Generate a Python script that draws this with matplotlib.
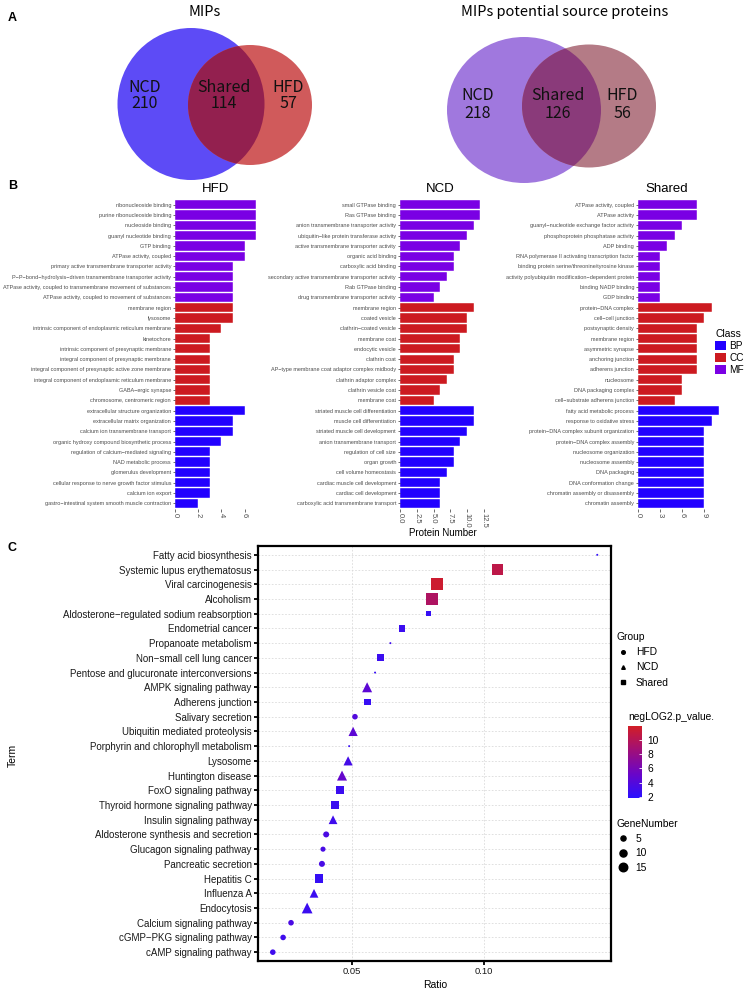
import numpy as np
import matplotlib
matplotlib.use("Agg")
import matplotlib.pyplot as plt
from matplotlib.patches import Ellipse, Patch
from matplotlib.lines import Line2D
from matplotlib.colors import LinearSegmentedColormap, Normalize
from matplotlib.cm import ScalarMappable

plt.rcParams['font.family'] = ['Liberation Sans', 'DejaVu Sans']

W, H = 747, 992

# ---- Panel A: Venn counts ----
venn_titles = ['MIPs', 'MIPs potential source proteins']
venn_labels = ['NCD', 'Shared', 'HFD']
mips_counts = [210, 114, 57]
source_counts = [218, 126, 56]

# ---- Panel B: GO terms ----
hfd_terms = ['ribonucleoside binding', 'purine ribonucleoside binding', 'nucleoside binding',
             'guanyl nucleotide binding', 'GTP binding', 'ATPase activity, coupled',
             'primary active transmembrane transporter activity',
             'P\u2212P\u2212bond\u2212hydrolysis\u2212driven transmembrane transporter activity',
             'ATPase activity, coupled to transmembrane movement of substances',
             'ATPase activity, coupled to movement of substances',
             'membrane region', 'lysosome', 'intrinsic component of endoplasmic reticulum membrane',
             'kinetochore', 'intrinsic component of presynaptic membrane',
             'integral component of presynaptic membrane',
             'integral component of presynaptic active zone membrane',
             'integral component of endoplasmic reticulum membrane', 'GABA\u2212ergic synapse',
             'chromosome, centromeric region',
             'extracellular structure organization', 'extracellular matrix organization',
             'calcium ion transmembrane transport', 'organic hydroxy compound biosynthetic process',
             'regulation of calcium\u2212mediated signaling', 'NAD metabolic process',
             'glomerulus development', 'cellular response to nerve growth factor stimulus',
             'calcium ion export', 'gastro\u2212intestinal system smooth muscle contraction']
hfd_counts = [7, 7, 7, 7, 6, 6, 5, 5, 5, 5,
              5, 5, 4, 3, 3, 3, 3, 3, 3, 3,
              6, 5, 5, 4, 3, 3, 3, 3, 3, 2]

ncd_terms = ['small GTPase binding', 'Ras GTPase binding', 'anion transmembrane transporter activity',
             'ubiquitin\u2212like protein transferase activity', 'active transmembrane transporter activity',
             'organic acid binding', 'carboxylic acid binding',
             'secondary active transmembrane transporter activity', 'Rab GTPase binding',
             'drug transmembrane transporter activity',
             'membrane region', 'coated vesicle', 'clathrin\u2212coated vesicle', 'membrane coat',
             'endocytic vesicle', 'clathrin coat', 'AP\u2212type membrane coat adaptor complex midbody',
             'clathrin adaptor complex', 'clathrin vesicle coat', 'membrane coat',
             'striated muscle cell differentiation', 'muscle cell differentiation',
             'striated muscle cell development', 'anion transmembrane transport',
             'regulation of cell size', 'organ growth', 'cell volume homeostasis',
             'cardiac muscle cell development', 'cardiac cell development',
             'carboxylic acid transmembrane transport']
ncd_counts = [12, 12, 11, 10, 9, 8, 8, 7, 6, 5,
              11, 10, 10, 9, 9, 8, 8, 7, 6, 5,
              11, 11, 10, 9, 8, 8, 7, 6, 6, 6]

shared_terms = ['ATPase activity, coupled', 'ATPase activity', 'guanyl\u2212nucleotide exchange factor activity',
                'phosphoprotein phosphatase activity', 'ADP binding',
                'RNA polymerase II activating transcription factor',
                'binding protein serine/threonine/tyrosine kinase',
                'activity polyubiquitin modification\u2212dependent protein', 'binding NADP binding',
                'GDP binding',
                'protein\u2212DNA complex', 'cell\u2212cell junction', 'postsynaptic density',
                'membrane region', 'asymmetric synapse', 'anchoring junction', 'adherens junction',
                'nucleosome', 'DNA packaging complex', 'cell\u2212substrate adherens junction',
                'fatty acid metabolic process', 'response to oxidative stress',
                'protein\u2212DNA complex subunit organization', 'protein\u2212DNA complex assembly',
                'nucleosome organization', 'nucleosome assembly', 'DNA packaging',
                'DNA conformation change', 'chromatin assembly or disassembly', 'chromatin assembly']
shared_counts = [8, 8, 6, 5, 4, 3, 3, 3, 3, 3,
                 10, 9, 8, 8, 8, 8, 8, 6, 6, 5,
                 11, 10, 9, 9, 9, 9, 9, 9, 9, 9]

go_class = ['MF'] * 10 + ['CC'] * 10 + ['BP'] * 10
class_names = ['BP', 'CC', 'MF']

# ---- Panel C: KEGG enrichment ----
kegg_terms = ['Fatty acid biosynthesis', 'Systemic lupus erythematosus', 'Viral carcinogenesis',
              'Alcoholism', 'Aldosterone\u2212regulated sodium reabsorption', 'Endometrial cancer',
              'Propanoate metabolism', 'Non\u2212small cell lung cancer',
              'Pentose and glucuronate interconversions', 'AMPK signaling pathway',
              'Adherens junction', 'Salivary secretion', 'Ubiquitin mediated proteolysis',
              'Porphyrin and chlorophyll metabolism', 'Lysosome', 'Huntington disease',
              'FoxO signaling pathway', 'Thyroid hormone signaling pathway',
              'Insulin signaling pathway', 'Aldosterone synthesis and secretion',
              'Glucagon signaling pathway', 'Pancreatic secretion', 'Hepatitis C', 'Influenza A',
              'Endocytosis', 'Calcium signaling pathway', 'cGMP\u2212PKG signaling pathway',
              'cAMP signaling pathway']
kegg_ratio = [0.1428, 0.105, 0.0822, 0.0803, 0.0789, 0.069, 0.0645, 0.0606, 0.0587, 0.0557,
              0.0557, 0.0511, 0.0504, 0.0489, 0.0485, 0.0462, 0.0455, 0.0436, 0.0428, 0.0402,
              0.039, 0.0386, 0.0375, 0.0356, 0.033, 0.0269, 0.0239, 0.020]
kegg_group = ['HFD', 'Shared', 'Shared', 'Shared', 'Shared', 'Shared', 'HFD', 'Shared', 'HFD', 'NCD',
              'Shared', 'HFD', 'NCD', 'HFD', 'NCD', 'NCD', 'Shared', 'Shared', 'NCD', 'HFD',
              'HFD', 'HFD', 'Shared', 'NCD', 'NCD', 'HFD', 'HFD', 'HFD']
kegg_logp = [2.3, 10.5, 11.5, 9.5, 2.5, 2.8, 3.0, 2.8, 2.5, 4.5,
             2.6, 4.0, 4.5, 2.6, 3.3, 5.0, 2.8, 2.8, 3.0, 3.6,
             3.5, 3.5, 2.5, 2.8, 2.8, 3.6, 3.0, 3.0]
kegg_genes = [1, 15, 17, 16, 3, 4, 1, 5, 1, 12,
              5, 6, 10, 1, 10, 12, 7, 6, 9, 7,
              5, 7, 8, 9, 14, 6, 6, 6]
group_names = ['HFD', 'NCD', 'Shared']
size_breaks = [5, 10, 15]

class_colors = {'BP': '#2200FF', 'CC': '#CC1A20', 'MF': '#7A00E4'}
group_markers = {'HFD': 'o', 'NCD': '^', 'Shared': 's'}
shape_scale = {'o': 1.0, '^': 1.3, 's': 1.35}


def fx(x):
    return x / W


def fy(y):
    return 1 - y / H


fig = plt.figure(figsize=(W / 100, H / 100), dpi=100)

# ================= Panel A =================
axa = fig.add_axes([0, fy(186), 1, 186 / H])
axa.set_xlim(0, W)
axa.set_ylim(186, 0)
axa.axis('off')

venn_font = ['Noto Sans CJK KR', 'DejaVu Sans']
venn_specs = [
    dict(counts=mips_counts, title=venn_titles[0], tx=205,
         a=((191, 104), 147, 152, '#5D4BF6'), b=((250, 105), 124, 120, '#D05A5B'),
         over='#93204F', lx=[145, 224, 288], ly=(87, 104)),
    dict(counts=source_counts, title=venn_titles[1], tx=565,
         a=((524, 110), 154, 146, '#A078DE'), b=((589, 106), 134, 123, '#B47B86'),
         over='#8A3A7A', lx=[478, 558, 622], ly=(96, 113)),
]
for spec in venn_specs:
    (ca, wa, ha, cola) = spec['a']
    (cb, wb, hb, colb) = spec['b']
    ea = Ellipse(ca, wa, ha, facecolor=cola, edgecolor='none')
    eb = Ellipse(cb, wb, hb, facecolor=colb, edgecolor='none')
    eo = Ellipse(cb, wb, hb, facecolor=spec['over'], edgecolor='none')
    axa.add_patch(ea)
    axa.add_patch(eb)
    axa.add_patch(eo)
    eo.set_clip_path(ea)
    axa.text(spec['tx'], 12, spec['title'], ha='center', va='center', fontsize=10.5,
             family=venn_font)
    for lab, n, x in zip(venn_labels, spec['counts'], spec['lx']):
        axa.text(x, spec['ly'][0], lab, ha='center', va='center', fontsize=11.5,
                 family=venn_font, color='#111111')
        axa.text(x, spec['ly'][1], str(n), ha='center', va='center', fontsize=11.5,
                 family=venn_font, color='#111111')

fig.text(fx(8), fy(18), 'A', fontsize=9, fontweight='bold', va='center')
fig.text(fx(8), fy(186), 'B', fontsize=9, fontweight='bold', va='center')
fig.text(fx(8), fy(548), 'C', fontsize=9, fontweight='bold', va='center')


# ================= Panel B =================
def bar_panel(left, unit, xmax, terms, counts, ticks, ticklabels, title, title_x):
    ax = fig.add_axes([fx(left), fy(509.5), xmax * unit / W, 311 / H])
    y = np.arange(len(terms))[::-1] + 1
    ax.barh(y, counts, height=0.9, color=[class_colors[c] for c in go_class],
            edgecolor='#FFFFFF', linewidth=0.3)
    ax.set_ylim(0.4, len(terms) + 0.6)
    ax.set_xlim(0, xmax)
    ax.set_yticks(y)
    ax.set_yticklabels(terms, fontsize=3.95, color='#4D4D4D')
    ax.set_xticks(ticks)
    ax.set_xticklabels(ticklabels, rotation=270, fontsize=5.5, color='#4D4D4D')
    for s in ax.spines.values():
        s.set_visible(False)
    ax.tick_params(length=1.8, width=0.5, color='#333333', pad=1)
    fig.text(fx(title_x), fy(189), title, ha='center', va='center', fontsize=9.5)
    return ax


bar_panel(175, 11.6, 7.2, hfd_terms, hfd_counts, [0, 2, 4, 6], ['0', '2', '4', '6'], 'HFD', 216)
bar_panel(400, 6.7, 12.9, ncd_terms, ncd_counts, [0, 2.5, 5, 7.5, 10, 12.5],
          ['0.0', '2.5', '5.0', '7.5', '10.0', '12.5'], 'NCD', 440)
bar_panel(638, 7.35, 11.4, shared_terms, shared_counts, [0, 3, 6, 9], ['0', '3', '6', '9'],
          'Shared', 667)
fig.text(fx(443), fy(533), 'Protein Number', ha='center', va='center', fontsize=7)

class_handles = [Patch(facecolor=class_colors[c], edgecolor='none', label=c) for c in class_names]
leg_b = fig.legend(handles=class_handles, title='Class', loc='upper left',
                   bbox_to_anchor=(fx(715), fy(329)), frameon=False, fontsize=7.2,
                   title_fontsize=7.4, handlelength=1.05, handleheight=1.05,
                   handletextpad=0.35, labelspacing=0.2, alignment='left', borderpad=0.0,
                   borderaxespad=0.0)

# ================= Panel C =================
cmap = LinearSegmentedColormap.from_list('pv', ['#2A10FF', '#6A05C8', '#A00F78', '#D21E26'])
norm = Normalize(vmin=1.9, vmax=11.9)


def marker_px(genes, marker):
    return (1.0 + 2.0 * np.sqrt(np.asarray(genes, dtype=float) - 1 + 0.25)) * shape_scale[marker]


axc = fig.add_axes([fx(258), fy(961), 353 / W, 415 / H])
n = len(kegg_terms)
ypos = np.arange(n)[::-1]
ratio = np.array(kegg_ratio)
logp = np.array(kegg_logp)
genes = np.array(kegg_genes)
grp = np.array(kegg_group)
for g in group_names:
    m = grp == g
    mk = group_markers[g]
    sizes = (marker_px(genes[m], mk) * 0.72) ** 2
    axc.scatter(ratio[m], ypos[m], s=sizes, c=logp[m], cmap=cmap, norm=norm,
                marker=mk, linewidths=0, zorder=3)
axc.set_ylim(-0.6, n - 0.4)
axc.set_xlim(0.0144, 0.148)
axc.set_yticks(ypos)
axc.set_yticklabels(kegg_terms, fontsize=7.0, color='#1A1A1A')
axc.set_xticks([0.05, 0.10])
axc.set_xticklabels(['0.05', '0.10'], fontsize=6.8, color='#1A1A1A')
axc.grid(True, color='#DADADA', linestyle=(0, (2, 2)), linewidth=0.6, zorder=0)
axc.set_axisbelow(True)
for s in axc.spines.values():
    s.set_linewidth(1.6)
    s.set_color('black')
axc.tick_params(length=3, width=1.3, color='black', pad=1.5)
fig.text(fx(13), fy(755), 'Term', rotation=90, ha='center', va='center', fontsize=7.5)
fig.text(fx(435), fy(985), 'Ratio', ha='center', va='center', fontsize=7.5)

group_handles = [Line2D([], [], marker=group_markers[g], color='black', linestyle='none',
                        markersize=2.6, label=g) for g in group_names]
leg_g = fig.legend(handles=group_handles, title='Group', loc='upper left',
                   bbox_to_anchor=(fx(609), fy(625)), frameon=False, fontsize=7.4,
                   title_fontsize=7.4, handlelength=1.4, handletextpad=0.5,
                   labelspacing=0.5, alignment='left', borderpad=0.2)

size_handles = [Line2D([], [], marker='o', color='black', linestyle='none',
                       markersize=float(marker_px(gn, 'o')) * 0.72, label=str(gn))
                for gn in size_breaks]
leg_s = fig.legend(handles=size_handles, title='GeneNumber', loc='upper left',
                   bbox_to_anchor=(fx(609), fy(812)), frameon=False, fontsize=7.4,
                   title_fontsize=7.4, handlelength=1.4, handletextpad=0.5,
                   labelspacing=0.45, alignment='left', borderpad=0.2)

fig.text(fx(628), fy(717), 'negLOG2.p_value.', fontsize=7.4, va='center')
cax = fig.add_axes([fx(628), fy(798), 14 / W, 72 / H])
cb = fig.colorbar(ScalarMappable(norm=norm, cmap=cmap), cax=cax, ticks=[2, 4, 6, 8, 10])
cb.outline.set_visible(False)
cax.tick_params(axis='y', direction='in', length=2.5, width=0.6, color='white',
                labelsize=7.4, pad=4)

fig.savefig('out.png', dpi=100)
